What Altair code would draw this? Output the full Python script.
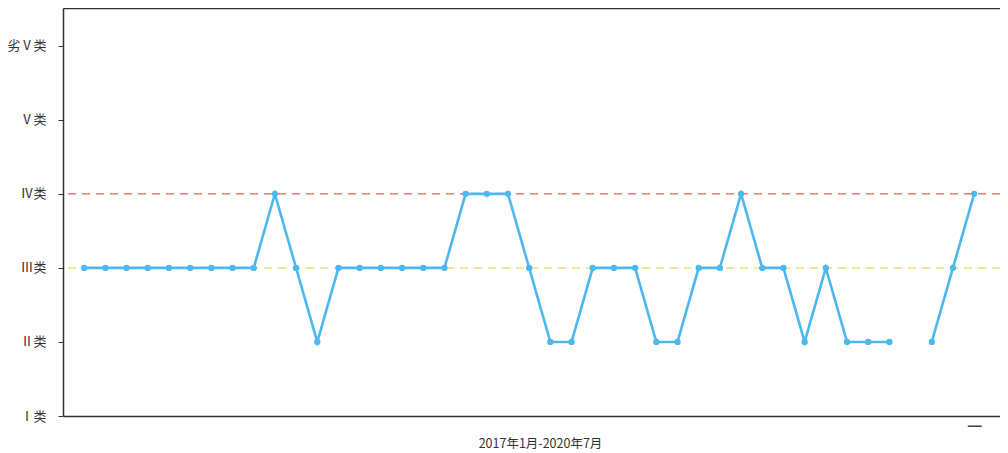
import altair as alt
import pandas as pd

# Water quality class per month, Jan 2017 - Jul 2020 (0=Ⅰ类 ... 5=劣Ⅴ类); None = no data
levels = [2, 2, 2, 2, 2, 2, 2, 2, 2, 3,
          2, 1, 2, 2, 2, 2, 2, 2, 3, 3,
          3, 2, 1, 1, 2, 2, 2, 1, 1, 2,
          2, 3, 2, 2, 1, 2, 1, 1, 1, None,
          1, 2, 3]
class_labels = ["Ⅰ类", "Ⅱ类", "Ⅲ类", "Ⅳ类", "Ⅴ类", "劣Ⅴ类"]
ref_levels = [3, 2]
ref_colors = ["#f27474", "#e8e272"]

rows = []
seg = 0
for i, v in enumerate(levels):
    if v is None:
        seg += 1
        continue
    rows.append({"idx": i + 1, "level": v, "seg": seg})
df = pd.DataFrame(rows)
ref_df = pd.DataFrame({"level": ref_levels, "color": ref_colors})

label_expr = "[" + ",".join("'" + s + "'" for s in class_labels) + "][datum.value]"
FONT = "Noto Sans CJK SC"

xscale = alt.Scale(domain=[0, 44.22], nice=False, zero=False)
yscale = alt.Scale(domain=[0, 5.51], nice=False)

x_axis = alt.Axis(values=[43], labelExpr="'—'", ticks=False, grid=False,
                  domainColor="#333", domainWidth=1.5, labelFontSize=17,
                  labelFontWeight="bold", labelColor="#444", labelPadding=1,
                  title="2017年1月-2020年7月", titleFontSize=12.5,
                  titleFontWeight="normal", titleColor="#333", titlePadding=4,
                  titleX=477, titleAlign="center",
                  titleFont=FONT, labelFont=FONT)
x_top_axis = alt.Axis(orient="top", labels=False, ticks=False, grid=False,
                      title=None, domainColor="#333", domainWidth=1.5)
y_axis = alt.Axis(values=[0, 1, 2, 3, 4, 5], labelExpr=label_expr, grid=False,
                  title=None, tickSize=5, tickColor="#333", domainColor="#333",
                  domainWidth=1.5, labelColor="#333", labelFontSize=13,
                  labelPadding=12, labelFont=FONT)

rules = alt.Chart(ref_df).mark_rule(strokeDash=[8, 6], strokeWidth=1.5).encode(
    y=alt.Y("level:Q", scale=yscale, axis=y_axis),
    color=alt.Color("color:N", scale=None),
)

line = alt.Chart(df).mark_line(color="#4db8f0", strokeWidth=2.6).encode(
    x=alt.X("idx:Q", scale=xscale, axis=x_top_axis),
    y=alt.Y("level:Q", scale=yscale),
    detail="seg:N",
)
pts = alt.Chart(df).mark_circle(color="#4db8f0", size=40, opacity=1).encode(
    x=alt.X("idx:Q", scale=xscale, axis=x_axis),
    y=alt.Y("level:Q", scale=yscale),
)

chart = alt.layer(rules, line, pts).resolve_axis(x="independent").properties(
    width=937, height=408,
    autosize=alt.AutoSizeParams(type="none"),
    padding={"left": 55, "top": 0, "right": 0, "bottom": 35},
).configure_view(strokeWidth=0).configure_axis(
    labelFont=FONT, titleFont=FONT
)

chart.save("out.html", embed_options={"renderer": "svg", "actions": False})
